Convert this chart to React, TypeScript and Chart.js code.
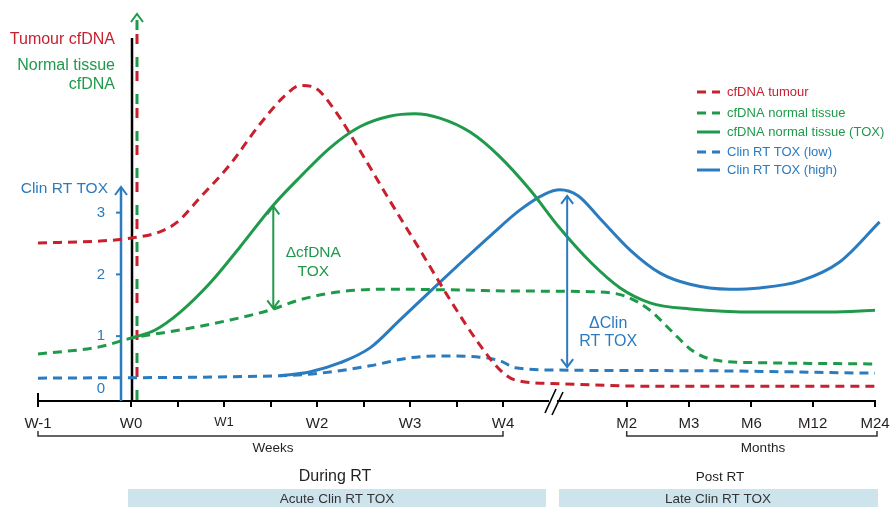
import { useEffect, useRef } from 'react';
import { Chart, registerables } from 'chart.js';

Chart.register(...registerables);

const FONT = '"Liberation Sans", Arial, Helvetica, sans-serif';
const RED = '#c8202f';
const GREEN = '#1f9a4a';
const BLUE = '#2a7bbf';
const INK = '#231f20';

// x axis (weeks from RT start; months compressed after the break)
const tickValues = [-1, 0, 0.5, 1, 1.5, 2, 2.5, 3, 3.5, 4, 5.33, 6, 6.67, 7.33, 8];
const tickLabels = ['W-1', 'W0', '', 'W1', '', 'W2', '', 'W3', '', 'W4', 'M2', 'M3', 'M6', 'M12', 'M24'];
const toxTicks = [0, 1, 2, 3];

// cfDNA tumour (dashed red)
const tumourX = [-1, -0.33, 0.01, 0.31, 0.5, 0.74, 1.06, 1.38, 1.66, 1.82, 1.98, 2.19, 2.46, 2.78, 3.11, 3.43, 3.75, 3.97, 4.13, 4.61, 5.58, 8];
const tumourY = [2.51, 2.54, 2.59, 2.69, 2.85, 3.24, 3.77, 4.42, 4.9, 5.06, 5.02, 4.66, 4.01, 3.2, 2.39, 1.59, 0.86, 0.45, 0.29, 0.23, 0.19, 0.19];

// cfDNA normal tissue (dashed green)
const normalX = [-1, -0.33, 0.01, 0.53, 1.06, 1.49, 1.82, 2.25, 2.78, 3.43, 4.18, 4.94, 5.31, 5.58, 5.8, 6.06, 6.33, 6.76, 8];
const normalY = [0.71, 0.83, 0.97, 1.1, 1.26, 1.42, 1.59, 1.72, 1.76, 1.75, 1.73, 1.72, 1.65, 1.42, 1.1, 0.74, 0.6, 0.57, 0.55];

// cfDNA normal tissue (TOX) (solid green)
const normalToxX = [0.01, 0.26, 0.53, 0.85, 1.17, 1.53, 1.82, 2.14, 2.46, 2.78, 3.05, 3.32, 3.65, 3.97, 4.29, 4.61, 4.94, 5.26, 5.58, 6.01, 6.76, 7.52, 8];
const normalToxY = [0.97, 1.1, 1.39, 1.86, 2.44, 3.12, 3.58, 4.05, 4.39, 4.56, 4.6, 4.53, 4.3, 3.9, 3.37, 2.75, 2.2, 1.78, 1.54, 1.44, 1.39, 1.39, 1.42];

// Clin RT TOX (low) (dashed blue)
const toxLowX = [-1, 1.6, 2.03, 2.57, 3.0, 3.32, 3.75, 3.97, 4.13, 4.61, 6.12, 8];
const toxLowY = [0.32, 0.36, 0.4, 0.52, 0.65, 0.68, 0.66, 0.6, 0.49, 0.45, 0.44, 0.4];

// Clin RT TOX (high) (solid blue)
const toxHighX = [1.6, 1.92, 2.25, 2.57, 2.89, 3.22, 3.54, 3.86, 4.18, 4.45, 4.61, 4.81, 5.04, 5.37, 5.69, 6.01, 6.44, 6.76, 7.19, 7.62, 8.05];
const toxHighY = [0.36, 0.42, 0.57, 0.81, 1.26, 1.73, 2.18, 2.62, 3.04, 3.3, 3.37, 3.27, 2.91, 2.39, 2.02, 1.84, 1.76, 1.78, 1.89, 2.2, 2.85];

const zip = (xs: number[], ys: number[]) => xs.map((x, i) => ({ x, y: ys[i] }));

const DASH = [9, 6];

function txt(ctx: CanvasRenderingContext2D, s: string, x: number, y: number, color: string, size: number, align: CanvasTextAlign = 'center') {
  ctx.font = `${size}px ${FONT}`;
  ctx.fillStyle = color;
  ctx.textAlign = align;
  ctx.textBaseline = 'middle';
  ctx.fillText(s, x, y);
}

function line(ctx: CanvasRenderingContext2D, x1: number, y1: number, x2: number, y2: number, color: string, w: number, dash: number[] = [], offset = 0) {
  ctx.beginPath();
  ctx.setLineDash(dash);
  ctx.lineDashOffset = offset;
  ctx.strokeStyle = color;
  ctx.lineWidth = w;
  ctx.moveTo(x1, y1);
  ctx.lineTo(x2, y2);
  ctx.stroke();
  ctx.setLineDash([]);
  ctx.lineDashOffset = 0;
}

function chevron(ctx: CanvasRenderingContext2D, x: number, y: number, dir: number, color: string, w = 2) {
  // dir = -1 points up, 1 points down
  ctx.beginPath();
  ctx.setLineDash([]);
  ctx.strokeStyle = color;
  ctx.lineWidth = w;
  ctx.moveTo(x - 6, y - dir * 8);
  ctx.lineTo(x, y);
  ctx.lineTo(x + 6, y - dir * 8);
  ctx.stroke();
}

const decor = {
  id: 'decor',
  beforeDatasetsDraw(chart: any) {
    const { ctx, scales } = chart;
    const x = scales.x;
    const y = scales.y;
    const x0 = x.getPixelForValue(0);
    const base = y.bottom;
    ctx.save();
    // black W0 line
    line(ctx, x0 + 1, 38, x0 + 1, base, '#000', 2.5);
    // alternating red / green dashed lines at W0
    const xd = x0 + 6;
    line(ctx, xd, 20, xd, base + 4, GREEN, 3, [10, 27], 0);
    line(ctx, xd, 34, xd, 377, RED, 3, [10, 27], 0);
    chevron(ctx, xd, 14, -1, GREEN, 2);
    // blue Clin RT TOX axis
    const xb = x0 - 10;
    line(ctx, xb, base, xb, 188, BLUE, 2.5);
    chevron(ctx, xb, 187, -1, BLUE, 2);
    toxTicks.forEach((t) => {
      const py = y.getPixelForValue(t);
      if (t > 0) line(ctx, xb - 5, py, xb, py, BLUE, 2);
      txt(ctx, String(t), xb - 20, t === 0 ? py - 9 : py, BLUE, 15);
    });
    ctx.restore();
  },
  afterDatasetsDraw(chart: any) {
    const { ctx, scales } = chart;
    const x = scales.x;
    const y = scales.y;
    const base = y.bottom;
    ctx.save();
    // left labels
    txt(ctx, 'Tumour cfDNA', 115, 40, RED, 16, 'right');
    txt(ctx, 'Normal tissue', 115, 66, GREEN, 16, 'right');
    txt(ctx, 'cfDNA', 115, 85, GREEN, 16, 'right');
    txt(ctx, 'Clin RT TOX', 108, 189, BLUE, 15.5, 'right');

    // ΔcfDNA TOX arrow
    const xa = x.getPixelForValue(1.53);
    const ya1 = y.getPixelForValue(3.1);
    const ya2 = y.getPixelForValue(1.45);
    line(ctx, xa, ya1, xa, ya2, GREEN, 2);
    chevron(ctx, xa, ya1, -1, GREEN, 2);
    chevron(ctx, xa, ya2, 1, GREEN, 2);
    txt(ctx, '\u0394cfDNA', xa + 40, 253, GREEN, 15.5);
    txt(ctx, 'TOX', xa + 40, 272, GREEN, 15.5);

    // ΔClin RT TOX arrow
    const xc = x.getPixelForValue(4.69);
    const yc1 = y.getPixelForValue(3.27);
    const yc2 = y.getPixelForValue(0.5);
    line(ctx, xc, yc1, xc, yc2, BLUE, 2);
    chevron(ctx, xc, yc1, -1, BLUE, 2);
    chevron(ctx, xc, yc2, 1, BLUE, 2);
    txt(ctx, '\u0394Clin', xc + 41, 324, BLUE, 16);
    txt(ctx, 'RT TOX', xc + 41, 342, BLUE, 16);

    // W-1 tick extends above axis
    const xm1 = x.getPixelForValue(-1);
    line(ctx, xm1, base - 8, xm1, base, '#000', 2);

    // axis break
    ctx.fillStyle = '#fff';
    ctx.fillRect(549, base - 3, 8, 6);
    line(ctx, 545, 413, 556, 389, '#000', 1.6);
    line(ctx, 552, 415, 563, 392, '#000', 1.6);

    // brackets
    const bY = 436;
    const wL = x.getPixelForValue(-1);
    const wR = x.getPixelForValue(4);
    ctx.beginPath();
    ctx.strokeStyle = '#333';
    ctx.lineWidth = 1.5;
    ctx.moveTo(wL, bY - 5); ctx.lineTo(wL, bY); ctx.lineTo(wR, bY); ctx.lineTo(wR, bY - 5);
    ctx.stroke();
    const mL = x.getPixelForValue(5.33);
    const mR = x.getPixelForValue(8) + 2;
    ctx.beginPath();
    ctx.moveTo(mL, bY - 5); ctx.lineTo(mL, bY); ctx.lineTo(mR, bY); ctx.lineTo(mR, bY - 5);
    ctx.stroke();
    txt(ctx, 'Weeks', 273, 448, INK, 13.5);
    txt(ctx, 'Months', 763, 448, INK, 13.5);

    txt(ctx, 'During RT', 335, 477, INK, 16);
    txt(ctx, 'Post RT', 720, 477, INK, 13.5);

    ctx.fillStyle = '#cde4ed';
    ctx.fillRect(128, 489, 418, 20);
    ctx.fillRect(559, 489, 319, 20);
    txt(ctx, 'Acute Clin RT TOX', 337, 499, '#333', 13.5);
    txt(ctx, 'Late Clin RT TOX', 718, 499, '#333', 13.5);

    // legend
    const rows = [92, 113, 132, 152, 170];
    chart.data.datasets.forEach((ds: any, i: number) => {
      const ly = rows[i];
      line(ctx, 697, ly, 720, ly, ds.borderColor, 3, ds.borderDash || [], 0);
      txt(ctx, ds.label, 727, ly, ds.borderColor, 13, 'left');
    });
    ctx.restore();
  },
};

export default function App() {
  const ref = useRef<HTMLCanvasElement>(null);
  useEffect(() => {
    if (!ref.current) return;
    const mk = (label: string, xs: number[], ys: number[], color: string, dashed: boolean) => ({
      label,
      data: zip(xs, ys),
      borderColor: color,
      backgroundColor: color,
      borderWidth: 3,
      borderDash: dashed ? DASH : [],
      pointRadius: 0,
      cubicInterpolationMode: 'monotone' as const,
      fill: false,
      clip: false as any,
    });
    const chart = new Chart(ref.current, {
      type: 'line',
      data: {
        datasets: [
          mk('cfDNA tumour', tumourX, tumourY, RED, true),
          mk('cfDNA normal tissue', normalX, normalY, GREEN, true),
          mk('cfDNA normal tissue (TOX)', normalToxX, normalToxY, GREEN, false),
          mk('Clin RT TOX (low)', toxLowX, toxLowY, BLUE, true),
          mk('Clin RT TOX (high)', toxHighX, toxHighY, BLUE, false),
        ],
      },
      options: {
        animation: false,
        responsive: false,
        devicePixelRatio: 1,
        layout: { padding: { left: 38, right: 16, top: 15, bottom: 0 } },
        plugins: { legend: { display: false }, tooltip: { enabled: false } },
        scales: {
          x: {
            type: 'linear',
            min: -1,
            max: 8,
            afterBuildTicks: (s: any) => {
              s.ticks = tickValues.map((v) => ({ value: v }));
            },
            afterFit: (s: any) => {
              s.height = 106;
              s.paddingLeft = 0;
              s.paddingRight = 0;
            },
            grid: {
              display: true,
              drawOnChartArea: false,
              drawTicks: true,
              tickLength: 6,
              color: '#000',
              lineWidth: 2,
            },
            border: { display: true, color: '#000', width: 2 },
            ticks: {
              autoSkip: false,
              maxRotation: 0,
              padding: 8,
              color: INK,
              font: (c: any) => ({ family: FONT, size: tickLabels[c.index] === 'W1' ? 13 : 15 }),
              callback: (_v: any, i: number) => tickLabels[i],
            },
          },
          y: {
            type: 'linear',
            min: -0.05,
            max: 6.2,
            display: false,
          },
        },
      },
      plugins: [decor],
    });
    return () => chart.destroy();
  }, []);
  return (
    <div style={{ position: 'fixed', left: 0, top: 0, width: 891, height: 507, background: '#fff' }}>
      <canvas ref={ref} width={891} height={507} />
    </div>
  );
}
